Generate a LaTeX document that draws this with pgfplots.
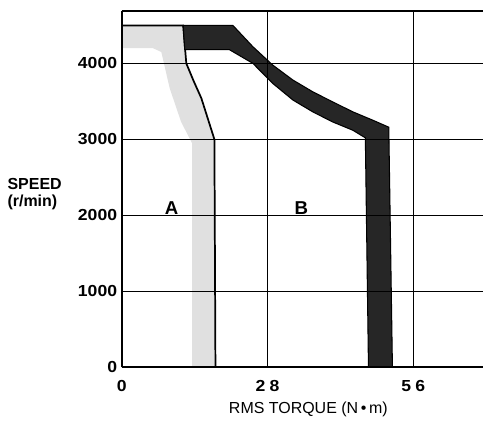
\documentclass[border=0pt]{standalone}
\usepackage{pgfplots}
\pgfplotsset{compat=1.18}
\usepackage{fontspec}
\setmainfont{Liberation Sans}
\newfontfamily\tickfont[FakeStretch=1.1]{Liberation Sans}
\begin{document}
\begin{tikzpicture}
\begin{axis}[
  scale only axis, width=271.5pt, height=267.75pt,
  xmin=0, xmax=69.4, ymin=0, ymax=4690,
  axis x line*=bottom, axis y line*=left,
  axis line style={line width=1.5pt},
  axis on top,
  xtick={0,28,56}, xticklabels={0,2\;8,5\;6},
  ytick={0,1000,2000,3000,4000},
  grid=major, grid style={black, line width=0.9pt},
  major tick length=0pt,
  tick label style={font=\tickfont\fontsize{12}{13}\selectfont\bfseries},
  /pgf/number format/assume math mode=true,
  /pgf/number format/1000 sep={},
  xticklabel style={yshift=-6pt},
  yticklabel style={xshift=0pt},
  xlabel={RMS TORQUE (N\,•\,m)},
  xlabel style={font=\fontsize{12}{13}\selectfont, at={(axis description cs:0.5,0)}, anchor=center, yshift=-32pt, xshift=4.5pt},
  clip=false,
]
\addplot[fill=black!12, draw=none] coordinates {(0,4500)(11.8,4500)(12.4,4000)(15.3,3540)(17.8,3000)(18,0)(13.5,0)(13.5,2950)(11.4,3230)(9.2,3675)(7.6,4150)(6,4200)(0,4200)} -- cycle;
\addplot[line width=1.3pt] coordinates {(0,4500)(11.8,4500)(12.4,4000)(13.8,3770)(15.3,3540)(17.8,3000)(18,0)};
\addplot[fill=black!85, draw=black, line width=0.8pt] coordinates {(11.8,4500)(21.35,4500)(25.2,4219)(29.0,3978)(32.9,3780)(36.7,3626)(40.5,3494)(44.4,3362)(48.2,3253)(51.3,3160)(52,0)(47.4,0)(46.8,3020)(44.4,3120)(40.5,3230)(36.7,3362)(32.9,3517)(29.0,3737)(25.2,4000)(20.7,4180)(12.1,4180)} -- cycle;
\node[font=\fontsize{14}{14}\selectfont\bfseries] at (axis cs:9.6,2100) {A};
\node[font=\fontsize{14}{14}\selectfont\bfseries] at (axis cs:34.5,2100) {B};
\node[anchor=west, align=left, font=\fontsize{12}{13}\selectfont\bfseries, inner sep=0pt] at ([xshift=-86pt]axis cs:0,2280) {SPEED\\(r/min)};
\draw[line width=0.9pt] (rel axis cs:0,1) -- (rel axis cs:1,1);
\path ([xshift=-91.5pt,yshift=-38.5pt]rel axis cs:0,0) rectangle ([yshift=8.25pt]rel axis cs:1,1);
\end{axis}
\end{tikzpicture}
\end{document}
